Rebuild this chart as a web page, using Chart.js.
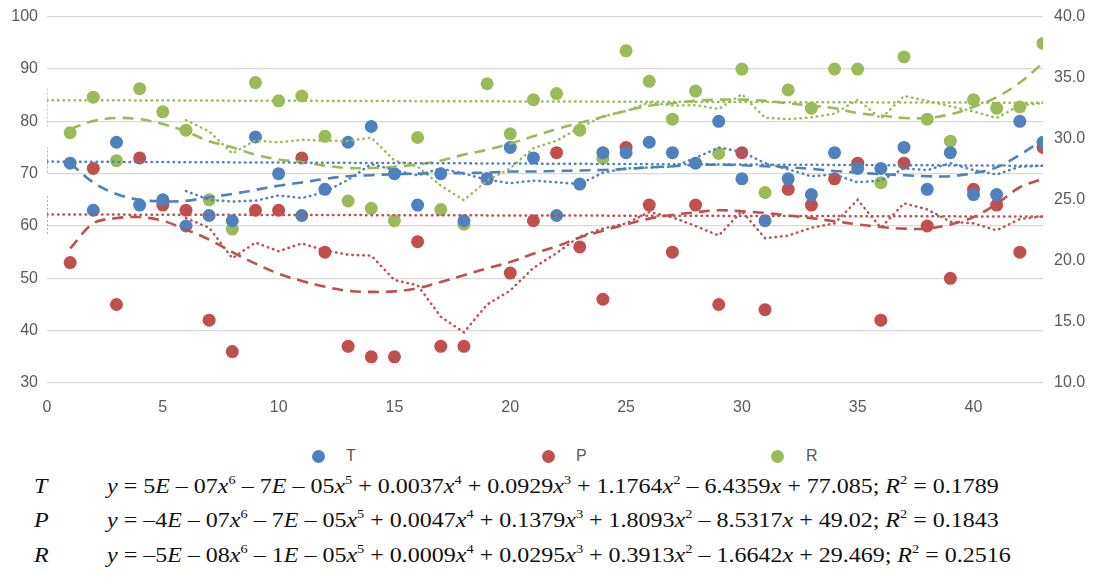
<!DOCTYPE html>
<html>
<head>
<meta charset="utf-8">
<script src="https://cdn.jsdelivr.net/npm/chart.js@4/dist/chart.umd.min.js"></script>
<style>
  html, body { margin: 0; padding: 0; background: #fff; }
  #wrap { position: relative; width: 1094px; height: 579px; overflow: hidden; }
  #box { position: absolute; left: 0; top: -4px; width: 1094px; height: 429px; }
  .leg { position: absolute; top: 447px; font: 16px "Liberation Sans", Arial, sans-serif; color: #595959; }
  .dot { position: absolute; top: 450px; width: 13px; height: 13px; border-radius: 50%; }
  .eq { position: absolute; left: 0; font: 20px "Liberation Serif", "Times New Roman", serif; color: #111; white-space: nowrap; }
  .eq .nm { position: absolute; left: 34px; font-style: italic; transform: scaleX(1.2); transform-origin: left; }
  .eq .tx { position: absolute; left: 107px; transform: scaleX(1.2); transform-origin: left; }
  .eq sup { font-size: 12px; vertical-align: 9px; line-height: 0; }
</style>
</head>
<body>
<div id="wrap">
  <div id="box"><canvas id="chart"></canvas></div>
</div>
<script>
// x positions (observation number)
const xVals = [1,2,3,4,5,6,7,8,9,10,11,12,13,14,15,16,17,18,19,20,21,22,23,24,25,26,27,28,29,30,31,32,33,34,35,36,37,38,39,40,41,42,43];

// series (T and P on left axis, R on right axis)
const T = [72,63,76,64,65,60,62,61,77,70,62,67,76,79,70,64,70,61,69,75,73,62,68,74,74,76,74,72,80,69,61,69,66,74,71,71,75,67,74,66,66,80,76];
const P = [53,71,45,73,64,63,42,36,63,63,73,55,37,35,35,57,37,37,69,51,61,74,56,46,75,64,55,64,45,74,44,67,64,69,72,42,72,60,50,67,64,55,75];
const R = [30.5,33.4,28.2,34.1,32.2,30.7,25.0,22.6,34.6,33.1,33.5,30.2,24.9,24.3,23.3,30.1,24.2,23.0,34.5,30.4,33.2,33.7,30.7,28.4,37.2,34.7,31.6,33.9,28.8,35.7,25.6,34.0,32.5,35.7,35.7,26.4,36.7,31.6,29.8,33.2,32.5,32.6,37.8];

// polynomial trend lines
const Tpoly = [72,68.3,66.1,65,64.7,64.8,65.5,66.1,66.9,67.7,68.3,69,69.5,69.7,69.9,70,70.1,70.1,70.2,70.4,70.4,70.5,70.6,70.7,70.9,71.2,71.4,71.7,71.7,71.6,71.4,71.2,70.9,70.5,70.2,69.9,69.7,69.5,69.5,70.1,71.2,73.6,76.5];
const Ppoly = [55.7,60.5,61.5,61.7,61,59.3,57.4,55,52.8,50.9,49.5,48.4,47.6,47.4,47.5,48.1,49.3,50.6,51.9,53.1,54.7,56.1,57.8,59.1,60.3,61.4,62.1,62.6,63,62.8,62.5,62,61.5,60.9,60.3,59.8,59.5,59.5,60.3,61.7,64.2,67.4,69];
const Rpoly = [30.8,31.45,31.7,31.6,31.2,30.6,29.8,29.3,28.7,28.3,28.1,27.8,27.6,27.6,27.7,27.9,28.2,28.7,29.1,29.6,30.2,30.8,31.3,31.8,32.3,32.7,32.9,33.1,33.2,33.2,33.1,32.9,32.7,32.5,32.1,31.9,31.7,31.7,32,32.6,33.4,34.6,36.2];

// straight dotted trend lines (value at x=0 and x=43)
const linX = [0, 43];
const Tlin = [72.3, 71.5];
const Plin = [62.2, 61.8];
const Rlin = [33.16, 32.94];

// short vertical marks at x = 0
const Tbar = [70.2, 75];
const Pbar = [58.5, 66.1];
const Rbar = [31.0, 34.3];

const maPeriod = 6;
const seriesNames = ["T", "P", "R"];
const colors = ["#4f81bd", "#c0504d", "#9bbb59"];

const equations = [
  'y = 5<i>E</i> – 07<i>x</i><sup>6</sup> – 7<i>E</i> – 05<i>x</i><sup>5</sup> + 0.0037<i>x</i><sup>4</sup> + 0.0929<i>x</i><sup>3</sup> + 1.1764<i>x</i><sup>2</sup> – 6.4359<i>x</i> + 77.085; <i>R</i><sup>2</sup> = 0.1789',
  'y = –4<i>E</i> – 07<i>x</i><sup>6</sup> – 7<i>E</i> – 05<i>x</i><sup>5</sup> + 0.0047<i>x</i><sup>4</sup> + 0.1379<i>x</i><sup>3</sup> + 1.8093<i>x</i><sup>2</sup> – 8.5317<i>x</i> + 49.02; <i>R</i><sup>2</sup> = 0.1843',
  'y = –5<i>E</i> – 08<i>x</i><sup>6</sup> – 1<i>E</i> – 05<i>x</i><sup>5</sup> + 0.0009<i>x</i><sup>4</sup> + 0.0295<i>x</i><sup>3</sup> + 0.3913<i>x</i><sup>2</sup> – 1.6642<i>x</i> + 29.469; <i>R</i><sup>2</sup> = 0.2516'
];

const pts = (xs, ys) => ys.map((v, i) => ({ x: xs[i], y: v }));

// moving average of the plotted points (what the dotted wavy lines show)
function movingAvg(arr) {
  const out = [];
  for (let i = maPeriod - 1; i < arr.length; i++) {
    let s = 0;
    for (let k = i - maPeriod + 1; k <= i; k++) s += arr[k];
    out.push({ x: xVals[i], y: s / maPeriod });
  }
  return out;
}

const raw = [T, P, R];
const polys = [Tpoly, Ppoly, Rpoly];
const lins = [Tlin, Plin, Rlin];
const bars = [Tbar, Pbar, Rbar];
const axisOf = ["y", "y", "y1"];

const datasets = [];
raw.forEach((arr, s) => {
  const c = colors[s];
  const ax = axisOf[s];
  datasets.push({ label: seriesNames[s], data: pts(xVals, arr), yAxisID: ax, backgroundColor: c, borderColor: c,
    pointRadius: 6.5, pointHoverRadius: 6.5, borderWidth: 0, showLine: false, order: 2 });
  datasets.push({ label: "poly", data: pts(xVals, polys[s]), yAxisID: ax, borderColor: c, borderWidth: 2.6,
    borderDash: [11, 7], showLine: true, pointRadius: 0, tension: 0.35, order: 1 });
  datasets.push({ label: "ma", data: movingAvg(arr), yAxisID: ax, borderColor: c, borderWidth: 2.5,
    borderDash: [0.5, 5], borderCapStyle: "round", showLine: true, pointRadius: 0, tension: 0, order: 1 });
  datasets.push({ label: "lin", data: pts(linX, lins[s]), yAxisID: ax, borderColor: c, borderWidth: 2.5,
    borderDash: [0.5, 5], borderCapStyle: "round", showLine: true, pointRadius: 0, order: 1 });
  datasets.push({ label: "bar", data: pts([0, 0], bars[s]), yAxisID: ax, borderColor: c, borderWidth: 1.2,
    borderDash: [2, 2], showLine: true, pointRadius: 0, order: 1 });
});

const tickFont = { family: "'Liberation Sans', Arial, sans-serif", size: 16 };

new Chart(document.getElementById("chart"), {
  type: "scatter",
  data: { datasets },
  options: {
    responsive: true,
    maintainAspectRatio: false,
    animation: false,
    layout: { padding: 0 },
    plugins: { legend: { display: false }, tooltip: { enabled: false } },
    scales: {
      x: {
        type: "linear", min: 0, max: 43,
        grid: { display: false, drawTicks: false },
        border: { display: false },
        ticks: { stepSize: 5, color: "#595959", font: tickFont, padding: 15, maxRotation: 0,
          callback: v => (v % 5 === 0 ? v : "") },
        afterFit: s => { s.height = 42; }
      },
      y: {
        position: "left", min: 30, max: 100,
        grid: { color: "#d9d9d9", lineWidth: 1.3, drawTicks: false },
        border: { display: false },
        ticks: { stepSize: 10, color: "#595959", font: tickFont, padding: 9 },
        afterFit: s => { s.width = 47; }
      },
      y1: {
        position: "right", min: 10, max: 40,
        grid: { display: false, drawTicks: false },
        border: { display: false },
        ticks: { stepSize: 5, color: "#595959", font: tickFont, padding: 11, callback: v => v.toFixed(1) },
        afterFit: s => { s.width = 51; }
      }
    }
  }
});

// legend and equations below the plot
const wrap = document.getElementById("wrap");
const legDot = [312, 542, 771];
const legTxt = [346, 576, 806];
seriesNames.forEach((n, i) => {
  const d = document.createElement("div");
  d.className = "dot";
  d.style.left = legDot[i] + "px";
  d.style.background = colors[i];
  wrap.appendChild(d);
  const t = document.createElement("div");
  t.className = "leg";
  t.style.left = legTxt[i] + "px";
  t.textContent = n;
  wrap.appendChild(t);
});
const eqTop = [475, 509, 544];
equations.forEach((e, i) => {
  const row = document.createElement("div");
  row.className = "eq";
  row.style.top = eqTop[i] + "px";
  row.innerHTML = '<span class="nm">' + seriesNames[i] + '</span><span class="tx">' +
    e.replace(/^y/, "<i>y</i>") + "</span>";
  wrap.appendChild(row);
});
</script>
</body>
</html>
